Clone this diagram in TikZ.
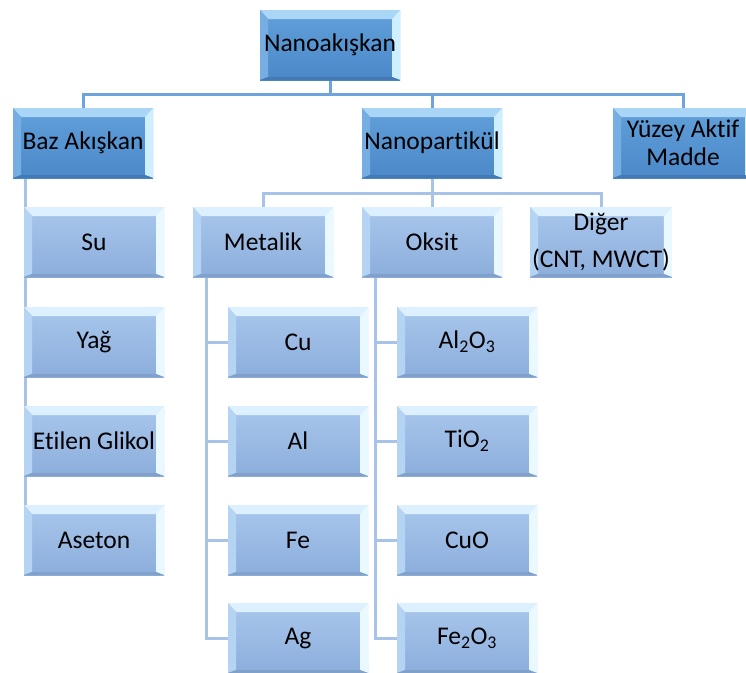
\documentclass[tikz,border=0pt]{standalone}
\usepackage{fontspec}
\setmainfont{Carlito}[Ligatures=NoCommon]
\usetikzlibrary{backgrounds}
\definecolor{koyuUst}{HTML}{62A0DA}
\definecolor{koyuAlt}{HTML}{4A88C9}
\definecolor{koyuIsik}{HTML}{A9D6F6}
\definecolor{koyuSol}{HTML}{76AEE3}
\definecolor{koyuSag}{HTML}{CDEFFF}
\definecolor{acikUst}{HTML}{A9C7EC}
\definecolor{acikAlt}{HTML}{8CAEDC}
\definecolor{acikIsik}{HTML}{DCF0FF}
\definecolor{acikSol}{HTML}{B5D3F3}
\definecolor{acikSag}{HTML}{EAF9FF}
\definecolor{koyuCizgi}{HTML}{6FA3DC}
\definecolor{acikCizgi}{HTML}{A7C3E8}

% bevel edges of a box
\newcommand{\egim}[4]{%
  \fill[#1] (path picture bounding box.north west) -- (path picture bounding box.north east)
    -- ([shift={(-8pt,-9pt)}]path picture bounding box.north east) -- ([shift={(8pt,-9pt)}]path picture bounding box.north west) -- cycle;
  \fill[#2] (path picture bounding box.north west) -- ([shift={(8pt,-9pt)}]path picture bounding box.north west)
    -- ([shift={(8pt,3pt)}]path picture bounding box.south west) -- (path picture bounding box.south west) -- cycle;
  \fill[#3] (path picture bounding box.north east) -- ([shift={(-8pt,-9pt)}]path picture bounding box.north east)
    -- ([shift={(-8pt,3pt)}]path picture bounding box.south east) -- (path picture bounding box.south east) -- cycle;
  \fill[#4] (path picture bounding box.south west) -- ([shift={(8pt,3pt)}]path picture bounding box.south west)
    -- ([shift={(-8pt,3pt)}]path picture bounding box.south east) -- (path picture bounding box.south east) -- cycle;
}

\tikzset{
  kutu/.style={rectangle, minimum width=140pt, minimum height=70pt, inner sep=2pt, align=center,
    font=\fontsize{25.5}{28}\selectfont},
  koyu/.style={kutu, top color=koyuUst, bottom color=koyuAlt,
    path picture={\egim{koyuIsik}{koyuSol}{koyuSag}{koyuAlt!90!black}}},
  acik/.style={kutu, top color=acikUst, bottom color=acikAlt,
    path picture={\egim{acikIsik}{acikSol}{acikSag}{acikAlt!92!black}}},
  ustbag/.style={draw=koyuCizgi, line width=3pt},
  altbag/.style={draw=acikCizgi, line width=3pt}
}

\begin{document}
\begin{tikzpicture}[x=1pt,y=-1pt]
  \clip (0,0) rectangle (746,672);

  \node[koyu] (kok) at (330,45) {Nanoakışkan};

  \node[koyu] (baz) at (83,143) {Baz Akışkan};
  \node[koyu] (nanop) at (432,143) {Nanopartikül};
  \node[koyu] (yuzey) at (683,143) {Yüzey Aktif\\Madde};

  \node[acik] (su) at (94,242) {Su};
  \node[acik] (yag) at (94,342) {Yağ};
  \node[acik] (etilen) at (94,441) {Etilen Glikol};
  \node[acik] (aseton) at (94,540) {Aseton};

  \node[acik] (metalik) at (263,242) {Metalik};
  \node[acik] (oksit) at (432,242) {Oksit};
  \node[acik] (diger) at (601,242) {Diğer\\[9pt](CNT, MWCT)};

  \node[acik] (cu) at (298,342) {Cu};
  \node[acik] (al) at (298,441) {Al};
  \node[acik] (fe) at (298,540) {Fe};
  \node[acik] (ag) at (298,638) {Ag};

  \node[acik] (alo) at (467,342) {Al\textsubscript{2}O\textsubscript{3}};
  \node[acik] (tio) at (467,441) {TiO\textsubscript{2}};
  \node[acik] (cuo) at (467,540) {CuO};
  \node[acik] (feo) at (467,638) {Fe\textsubscript{2}O\textsubscript{3}};

  \coordinate (bazkol) at ([xshift=13pt]baz.south west);

  \begin{pgfonlayer}{background}
    \foreach \c in {baz,nanop,yuzey}
      \draw[ustbag] (kok.south) -- ++(0,14) -| (\c.north);
    \foreach \c in {metalik,oksit,diger}
      \draw[altbag] (nanop.south) -- ++(0,15) -| (\c.north);
    \foreach \c in {su,yag,etilen,aseton}
      \draw[altbag] (bazkol) |- (\c.west);
    \foreach \c in {cu,al,fe,ag}
      \draw[altbag] ([xshift=14pt]metalik.south west) |- (\c.west);
    \foreach \c in {alo,tio,cuo,feo}
      \draw[altbag] ([xshift=14pt]oksit.south west) |- (\c.west);
  \end{pgfonlayer}
\end{tikzpicture}
\end{document}
